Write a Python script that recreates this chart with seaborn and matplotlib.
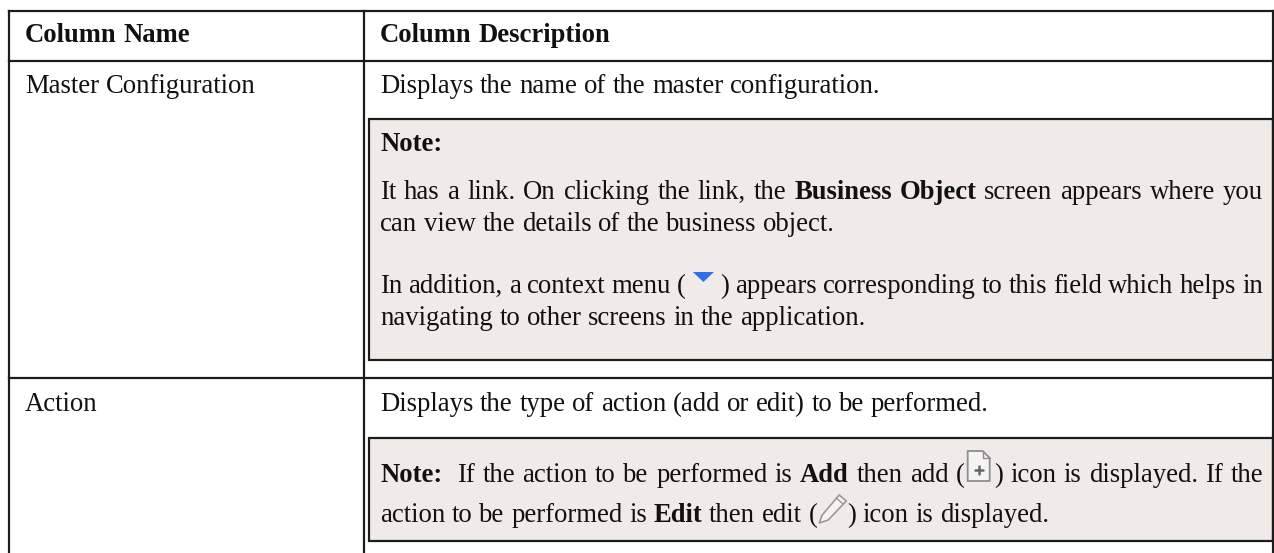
import matplotlib
matplotlib.use("Agg")
import matplotlib.pyplot as plt
from matplotlib.patches import Rectangle, Polygon
import seaborn as sns

# page table, text. * marks bold pieces, {x} marks an icon
header_names = ["*Column* *Name*", "*Column* *Description*"]
row_names = ["Master Configuration", "Action"]
row1_desc = "Displays the name of the master configuration."
row2_desc = "Displays the type of action (add or edit) to be performed."
note1_head = "*Note:*"
note1_lines = [
    "It has a link. On clicking the link, the *Business* *Object* screen appears where you",
    "can view the details of the business object.",
    "In addition, a context menu ({menu}) appears corresponding to this field which helps in",
    "navigating to other screens in the application.",
]
note2_lines = [
    "*Note:*  If the action to be performed is *Add* then add ({add}) icon is displayed. If the",
    "action to be performed is *Edit* then edit ({edit}) icon is displayed.",
]

sns.set_theme(style="white", rc={"axes.facecolor": "white", "figure.facecolor": "white"})
plt.rcParams["font.family"] = ["Liberation Serif", "DejaVu Serif"]
plt.rcParams["text.hinting"] = "native"
plt.rcParams["text.hinting_factor"] = 8

fig = plt.figure(figsize=(12.74, 5.53), dpi=100)
ax = fig.add_axes([0, 0, 1, 1])
ax.set_xlim(0, 1274)
ax.set_ylim(553, 0)
ax.axis("off")

FS = 19.2
INK = "#111111"
RULE = "#1c1c1c"
NOTE_BG = "#f0ebe9"
icon_w = {"menu": 34, "add": 29, "edit": 30}


def split_word(word):
    # turns one word into pieces of (kind, text)
    pieces = []
    bold = False
    buf = ""
    i = 0
    while i < len(word):
        c = word[i]
        if c == "*":
            if buf:
                pieces.append(("b" if bold else "r", buf))
            buf = ""
            bold = not bold
        elif c == "{":
            if buf:
                pieces.append(("b" if bold else "r", buf))
            buf = ""
            j = word.index("}", i)
            pieces.append(("i", word[i + 1:j]))
            i = j
        else:
            buf += c
        i += 1
    if buf:
        pieces.append(("b" if bold else "r", buf))
    return pieces


def text_w(s, bold):
    t = ax.text(0, 0, s, fontsize=FS, fontweight="bold" if bold else "normal")
    w = t.get_window_extent(fig.canvas.get_renderer()).width
    t.remove()
    return w


def piece_w(p):
    if p[0] == "i":
        return icon_w[p[1]]
    return text_w(p[1], p[0] == "b")


def draw_icon(name, x, base):
    if name == "menu":
        ax.add_patch(Polygon([[x + 7, base - 21], [x + 28, base - 21], [x + 17.5, base - 11]],
                             closed=True, fc="#2f6fed", ec="none", zorder=3))
    elif name == "add":
        x0 = x + 3
        ax.add_patch(Polygon([[x0, base - 31], [x0 + 15, base - 31], [x0 + 22, base - 24],
                              [x0 + 22, base - 1], [x0, base - 1]], closed=True,
                             fc="#f4f4f4", ec="#8e8e8e", lw=1.3, zorder=3))
        ax.plot([x0 + 15, x0 + 15, x0 + 22], [base - 31, base - 24, base - 24], color="#8e8e8e", lw=1, zorder=4)
        ax.plot([x0 + 7, x0 + 15], [base - 12, base - 12], color="#666666", lw=1.8, zorder=4)
        ax.plot([x0 + 11, x0 + 11], [base - 16, base - 8], color="#666666", lw=1.8, zorder=4)
    else:
        ax.add_patch(Polygon([[x + 2, base + 1], [x + 5, base - 7], [x + 22, base - 27], [x + 29, base - 21],
                              [x + 11, base - 2]], closed=True, fc="#f6f4f3", ec="#9a9a9a", lw=1.2, zorder=3))
        ax.plot([x + 19, x + 26], [base - 24, base - 18], color="#9a9a9a", lw=1, zorder=4)


def draw_line(line, x, base, right=None):
    words = [split_word(w) for w in line.split(" ")]
    widths = [sum(piece_w(p) for p in w) for w in words]
    gap = FS * 100 / 72 * 0.25
    if right is not None:
        gap = (right - x - sum(widths)) / (len(words) - 1)
    for w, ww in zip(words, widths):
        cx = x
        for p in w:
            if p[0] == "i":
                draw_icon(p[1], cx, base)
            else:
                ax.text(cx, base, p[1], fontsize=FS, color=INK, va="baseline", ha="left",
                        fontweight="bold" if p[0] == "b" else "normal", zorder=5)
            cx += piece_w(p)
        x += ww + gap


def rule(x0, y0, x1, y1, lw=1.6):
    ax.plot([x0, x1], [y0, y1], color=RULE, lw=lw, solid_capstyle="projecting", zorder=2)


# note boxes
for top, bottom in [(119, 360), (438, 541)]:
    ax.add_patch(Rectangle((369, top), 904, bottom - top, fc=NOTE_BG, ec=RULE, lw=1.6, zorder=1))

# table rules
rule(9, 11, 1273, 11)
rule(9, 61, 1273, 61)
rule(9, 378, 1273, 378)
rule(9, 11, 9, 553)
rule(364, 11, 364, 553)
rule(1273, 11, 1273, 553)

# text
draw_line(header_names[0], 25, 42)
draw_line(header_names[1], 380, 42)
draw_line(row_names[0], 25, 93)
draw_line(row_names[1], 25, 411)
draw_line(row1_desc, 380, 93)
draw_line(note1_head, 380, 151)
draw_line(note1_lines[0], 380, 199, right=1263)
draw_line(note1_lines[1], 380, 231)
draw_line(note1_lines[2], 380, 293, right=1263)
draw_line(note1_lines[3], 380, 325)
draw_line(row2_desc, 380, 411)
draw_line(note2_lines[0], 380, 482, right=1263)
draw_line(note2_lines[1], 380, 522)

sns.despine(ax=ax, left=True, bottom=True)
fig.savefig("out.png", dpi=100)
